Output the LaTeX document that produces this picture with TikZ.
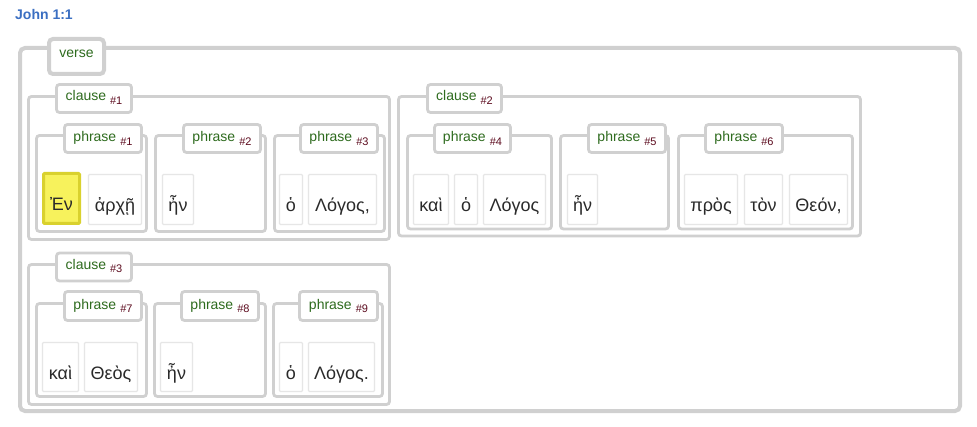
\documentclass[tikz,border=0pt]{standalone}
\usepackage{fontspec}
\setmainfont{Liberation Sans}
\newfontfamily\greekfont{Liberation Sans}
\definecolor{frame}{HTML}{D0D0D0}
\definecolor{wordline}{HTML}{E6E6E6}
\definecolor{lblgreen}{HTML}{2E6B1E}
\definecolor{submaroon}{HTML}{5C0B1E}
\definecolor{refblue}{HTML}{3B6FC2}
\definecolor{hlfill}{HTML}{F7F25C}
\definecolor{hlline}{HTML}{D9D12E}
\definecolor{wordtext}{HTML}{2A2A2A}

% a box given by its corner points (x1,y1) and (x2,y2), y growing downward
\newcommand\rbox[7]{%
  \node[#1, anchor=north west, outer sep=0pt, inner sep=0pt,
        minimum width={(#5)-(#3)}, minimum height={(#6)-(#4)}]
        (#2) at (#3,#4) {#7};}
% label text: green word with a small maroon number
\newcommand\lbl[2]{{\color{lblgreen}#1}\hspace{4pt}{\fontsize{11}{11}\selectfont\color{submaroon}\raisebox{-3.5pt}{\#{}#2}}}

\tikzset{
  versebox/.style={draw=frame, line width=4pt, rounded corners=5pt},
  verselabel/.style={draw=frame, fill=white, line width=4pt, rounded corners=4pt,
    font=\fontsize{14}{14}\selectfont, text=lblgreen, text height=8pt, text depth=5pt},
  groupbox/.style={draw=frame, line width=2.8pt, rounded corners=3pt},
  grouplabel/.style={draw=frame, fill=white, line width=2.8pt, rounded corners=3pt,
    font=\fontsize{14}{14}\selectfont, text height=10pt, text depth=5pt},
  phraselabel/.style={grouplabel, text depth=3pt},
  wordbox/.style={draw=wordline, line width=1.3pt, rounded corners=1pt,
    font=\greekfont\fontsize{18}{18}\selectfont, text=wordtext,
    text height=28pt, text depth=3pt},
  hlword/.style={wordbox, fill=hlfill, draw=hlline, line width=3pt}
}

\begin{document}
\begin{tikzpicture}[x=1pt, y=-1pt]
\useasboundingbox[fill=white] (0,0) rectangle (977,427);

\node[anchor=base west, inner sep=0pt, text=refblue,
      font=\bfseries\fontsize{14}{14}\selectfont] (ref) at (15,20) {John 1:1};

% verse
\rbox{versebox}{verse}{20}{48}{960}{411}{}
\rbox{verselabel}{verselbl}{49}{39}{104}{74}{verse}

% clauses
\rbox{groupbox}{c1}{28.5}{96.5}{389.5}{239.5}{}
\rbox{grouplabel}{c1lbl}{56.5}{84.5}{131.5}{112.5}{\lbl{clause}{1}}
\rbox{groupbox}{c2}{398.5}{96.5}{860.5}{236}{}
\rbox{grouplabel}{c2lbl}{427.5}{84.5}{501.5}{112.5}{\lbl{clause}{2}}
\rbox{groupbox}{c3}{28.5}{264.5}{389.5}{404.5}{}
\rbox{grouplabel}{c3lbl}{56.5}{253}{131.5}{281}{\lbl{clause}{3}}

% phrases, first row
\rbox{groupbox}{p1}{36.5}{135.5}{146.5}{231.5}{}
\rbox{phraselabel}{p1lbl}{64.5}{124.5}{141.5}{152.5}{\lbl{phrase}{1}}
\rbox{groupbox}{p2}{155.5}{135.5}{265.5}{231.5}{}
\rbox{phraselabel}{p2lbl}{183.5}{124.5}{260.5}{152.5}{\lbl{phrase}{2}}
\rbox{groupbox}{p3}{274.5}{135.5}{384.5}{231.5}{}
\rbox{phraselabel}{p3lbl}{300.5}{124.5}{377.5}{152.5}{\lbl{phrase}{3}}
\rbox{groupbox}{p4}{407.5}{135.5}{551.5}{229}{}
\rbox{phraselabel}{p4lbl}{434.5}{124.5}{510.5}{152.5}{\lbl{phrase}{4}}
\rbox{groupbox}{p5}{560.5}{135.5}{668.5}{229}{}
\rbox{phraselabel}{p5lbl}{588.5}{124.5}{665.5}{152.5}{\lbl{phrase}{5}}
\rbox{groupbox}{p6}{678.5}{135.5}{852.5}{229}{}
\rbox{phraselabel}{p6lbl}{705.5}{124.5}{782.5}{152.5}{\lbl{phrase}{6}}

% phrases, second row
\rbox{groupbox}{p7}{36.5}{303.5}{146.5}{396.5}{}
\rbox{phraselabel}{p7lbl}{64.5}{291.5}{141.5}{320.5}{\lbl{phrase}{7}}
\rbox{groupbox}{p8}{154.5}{303.5}{265.5}{396.5}{}
\rbox{phraselabel}{p8lbl}{181.5}{291.5}{258.5}{320.5}{\lbl{phrase}{8}}
\rbox{groupbox}{p9}{273.5}{303.5}{382.5}{396.5}{}
\rbox{phraselabel}{p9lbl}{299.5}{291.5}{377.5}{320.5}{\lbl{phrase}{9}}

% words, first row
\rbox{hlword}{w1}{43.5}{173.5}{79.5}{223.5}{Ἐν}
\rbox{wordbox}{w2}{88.5}{174.5}{141.5}{224.5}{ἀρχῇ}
\rbox{wordbox}{w3}{162.5}{174.5}{193.5}{224.5}{ἦν}
\rbox{wordbox}{w4}{279.5}{174.5}{302.5}{224.5}{ὁ}
\rbox{wordbox}{w5}{308.5}{174.5}{376.5}{224.5}{Λόγος,}
\rbox{wordbox}{w6}{413.5}{174.5}{448.5}{224.5}{καὶ}
\rbox{wordbox}{w7}{454.5}{174.5}{477.5}{224.5}{ὁ}
\rbox{wordbox}{w8}{483.5}{174.5}{545.5}{224.5}{Λόγος}
\rbox{wordbox}{w9}{567.5}{174.5}{597.5}{224.5}{ἦν}
\rbox{wordbox}{w10}{684.5}{174.5}{737.5}{224.5}{πρὸς}
\rbox{wordbox}{w11}{744.5}{174.5}{782.5}{224.5}{τὸν}
\rbox{wordbox}{w12}{789.5}{174.5}{847.5}{224.5}{Θεόν,}

% words, second row
\rbox{wordbox}{w13}{42.5}{342.5}{78.5}{391.5}{καὶ}
\rbox{wordbox}{w14}{84.5}{342.5}{137.5}{391.5}{Θεὸς}
\rbox{wordbox}{w15}{160.5}{342.5}{192.5}{391.5}{ἦν}
\rbox{wordbox}{w16}{279.5}{342.5}{302.5}{391.5}{ὁ}
\rbox{wordbox}{w17}{308.5}{342.5}{374.5}{391.5}{Λόγος.}
\end{tikzpicture}
\end{document}
